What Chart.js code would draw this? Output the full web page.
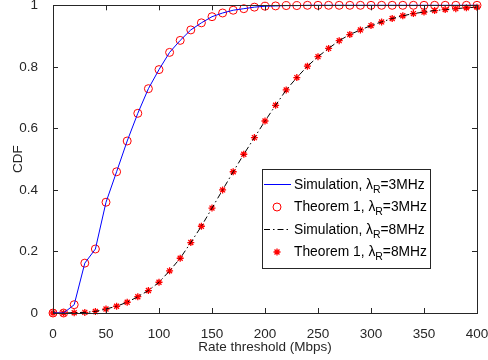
<!DOCTYPE html>
<html>
<head>
<meta charset="utf-8">
<script src="https://cdn.jsdelivr.net/npm/chart.js@4.4.1/dist/chart.umd.min.js"></script>
<style>
  html, body { margin: 0; padding: 0; background: #fff; }
  #wrap { width: 488px; height: 360px; }
</style>
</head>
<body>
<div id="wrap"><canvas id="graph" width="488" height="360"></canvas></div>
<script>
// rate threshold samples (Mbps)
var rateMbps = [0, 10, 20, 30, 40, 50, 60, 70, 80, 90, 100,
    110, 120, 130, 140, 150, 160, 170, 180, 190, 200,
    210, 220, 230, 240, 250, 260, 270, 280, 290, 300,
    310, 320, 330, 340, 350, 360, 370, 380, 390, 400];

// CDF, lambda_R = 3 MHz
var cdf3MHz = [0, 0, 0.027, 0.162, 0.208, 0.360, 0.459, 0.559, 0.649, 0.729, 0.791,
    0.847, 0.886, 0.920, 0.943, 0.963, 0.975, 0.984, 0.989, 0.994, 0.997,
    0.998, 0.999, 0.999, 1, 1, 1, 1, 1, 1, 1,
    1, 1, 1, 1, 1, 1, 1, 1, 1, 1];

// CDF, lambda_R = 8 MHz
var cdf8MHz = [0, 0, 0.001, 0.002, 0.005, 0.013, 0.022, 0.035, 0.053, 0.073, 0.100,
    0.137, 0.178, 0.229, 0.282, 0.341, 0.400, 0.459, 0.516, 0.570, 0.624,
    0.675, 0.725, 0.765, 0.802, 0.833, 0.860, 0.885, 0.905, 0.920, 0.934,
    0.946, 0.957, 0.966, 0.973, 0.978, 0.983, 0.986, 0.989, 0.992, 0.994];

var xTicks = [0, 50, 100, 150, 200, 250, 300, 350, 400];
var yTicks = [0, 0.2, 0.4, 0.6, 0.8, 1];

var FONT = '"Liberation Sans", Arial, Helvetica, sans-serif';
var AXIS_COLOR = '#262626';
var AXIS_FONT = {family: FONT, size: 13.5};

function points(ys){
    return rateMbps.map(function(x, i){ return {x: x, y: ys[i]}; });
}

// box around the axes with inward ticks on all four sides
var boxPlugin = {
    id: 'box',
    afterDatasetsDraw: function(chart){
        var ctx = chart.ctx, a = chart.chartArea;
        var sx = chart.scales.x, sy = chart.scales.y;
        var len = 5;
        ctx.save();
        ctx.strokeStyle = AXIS_COLOR;
        ctx.lineWidth = 1;
        ctx.beginPath();
        xTicks.forEach(function(t){
            var px = Math.round(sx.getPixelForValue(t)) + 0.5;
            ctx.moveTo(px, a.bottom); ctx.lineTo(px, a.bottom - len);
            ctx.moveTo(px, a.top); ctx.lineTo(px, a.top + len);
        });
        yTicks.forEach(function(t){
            var py = Math.round(sy.getPixelForValue(t)) + 0.5;
            ctx.moveTo(a.left, py); ctx.lineTo(a.left + len, py);
            ctx.moveTo(a.right, py); ctx.lineTo(a.right - len, py);
        });
        ctx.stroke();
        ctx.strokeRect(Math.round(a.left) + 0.5, Math.round(a.top) + 0.5,
            Math.round(a.right - a.left), Math.round(a.bottom - a.top));
        ctx.restore();
    }
};

// legend with lambda_R subscripts
var legendPlugin = {
    id: 'subLegend',
    afterDraw: function(chart){
        var ctx = chart.ctx;
        var bx = 262.5, by = 169.5, bw = 168, bh = 99;
        var rows = [
            {y: 184, kind: 'line', ds: 0, pre: 'Simulation, ', post: '=3MHz'},
            {y: 206, kind: 'mark', ds: 1, pre: 'Theorem 1, ', post: '=3MHz'},
            {y: 229, kind: 'line', ds: 2, pre: 'Simulation, ', post: '=8MHz'},
            {y: 251, kind: 'mark', ds: 3, pre: 'Theorem 1, ', post: '=8MHz'}
        ];
        ctx.save();
        ctx.fillStyle = '#fff';
        ctx.fillRect(bx, by, bw, bh);
        ctx.strokeStyle = AXIS_COLOR;
        ctx.lineWidth = 1;
        ctx.strokeRect(bx, by, bw, bh);

        rows.forEach(function(r){
            var ds = chart.data.datasets[r.ds];
            if (r.kind === 'line') {
                ctx.save();
                ctx.strokeStyle = ds.borderColor;
                ctx.lineWidth = ds.borderWidth;
                ctx.setLineDash(ds.borderDash || []);
                ctx.beginPath();
                ctx.moveTo(264, r.y + 0.5);
                ctx.lineTo(291, r.y + 0.5);
                ctx.stroke();
                ctx.restore();
            } else {
                ctx.save();
                ctx.fillStyle = ds.pointBackgroundColor;
                ctx.strokeStyle = ds.pointBorderColor;
                ctx.lineWidth = ds.pointBorderWidth;
                Chart.helpers.drawPoint(ctx, {
                    pointStyle: ds.pointStyle,
                    radius: ds.pointRadius,
                    borderWidth: ds.pointBorderWidth,
                    rotation: 0
                }, 277, r.y + 1);
                ctx.restore();
            }
            ctx.fillStyle = '#000';
            ctx.textBaseline = 'alphabetic';
            ctx.textAlign = 'left';
            ctx.font = '13.8px ' + FONT;
            var x = 294, base = r.y + 5;
            ctx.fillText(r.pre, x, base);
            x += ctx.measureText(r.pre).width;
            ctx.fillText('\u03bb', x, base);
            x += ctx.measureText('\u03bb').width;
            ctx.font = '10.5px ' + FONT;
            ctx.fillText('R', x, base + 4);
            x += ctx.measureText('R').width;
            ctx.font = '13.8px ' + FONT;
            ctx.fillText(r.post, x, base);
        });
        ctx.restore();
    }
};

var context = document.querySelector('#graph').getContext('2d');

var chart = new Chart(context, {
    type: 'line',
    data: {
        datasets: [
            {
                label: 'Simulation, 3MHz',
                data: points(cdf3MHz),
                borderColor: '#0000ff',
                borderWidth: 1,
                pointRadius: 0,
                tension: 0,
                clip: false
            },
            {
                label: 'Theorem 1, 3MHz',
                data: points(cdf3MHz),
                showLine: false,
                pointStyle: 'circle',
                pointRadius: 4,
                pointBorderWidth: 1,
                pointBorderColor: '#ff0000',
                pointBackgroundColor: 'rgba(0,0,0,0)',
                clip: false
            },
            {
                label: 'Simulation, 8MHz',
                data: points(cdf8MHz),
                borderColor: '#000000',
                borderWidth: 1,
                borderDash: [6, 3, 1.5, 3],
                pointRadius: 0,
                tension: 0,
                clip: false
            },
            {
                label: 'Theorem 1, 8MHz',
                data: points(cdf8MHz),
                showLine: false,
                pointStyle: 'star',
                pointRadius: 3.5,
                pointBorderWidth: 1.3,
                pointBorderColor: '#ff0000',
                pointBackgroundColor: '#ff0000',
                clip: false
            }
        ]
    },
    options: {
        responsive: false,
        animation: false,
        events: [],
        layout: {padding: {left: 0, right: 11, top: 5, bottom: 0}},
        plugins: {
            legend: {display: false},
            tooltip: {enabled: false}
        },
        scales: {
            x: {
                type: 'linear',
                min: 0,
                max: 400,
                afterBuildTicks: function(scale){
                    scale.ticks = xTicks.map(function(v){ return {value: v}; });
                },
                afterFit: function(scale){
                    scale.height = 47;
                    scale.paddingLeft = 0;
                    scale.paddingRight = 0;
                },
                grid: {display: false},
                border: {display: false},
                ticks: {
                    color: AXIS_COLOR,
                    padding: 5,
                    maxRotation: 0,
                    font: AXIS_FONT,
                    callback: function(v){ return String(v); }
                },
                title: {
                    display: true,
                    text: 'Rate threshold (Mbps)',
                    color: AXIS_COLOR,
                    padding: {top: 0, bottom: 5},
                    font: AXIS_FONT
                }
            },
            y: {
                type: 'linear',
                min: 0,
                max: 1,
                afterBuildTicks: function(scale){
                    scale.ticks = yTicks.map(function(v){ return {value: v}; });
                },
                afterFit: function(scale){
                    scale.width = 53;
                    scale.paddingTop = 0;
                    scale.paddingBottom = 0;
                },
                grid: {display: false},
                border: {display: false},
                ticks: {
                    color: AXIS_COLOR,
                    padding: 7,
                    font: AXIS_FONT,
                    callback: function(v){ return String(v); }
                },
                title: {
                    display: true,
                    text: 'CDF',
                    color: AXIS_COLOR,
                    padding: {top: 10, bottom: 0},
                    font: AXIS_FONT
                }
            }
        }
    },
    plugins: [boxPlugin, legendPlugin]
});
</script>
</body>
</html>
